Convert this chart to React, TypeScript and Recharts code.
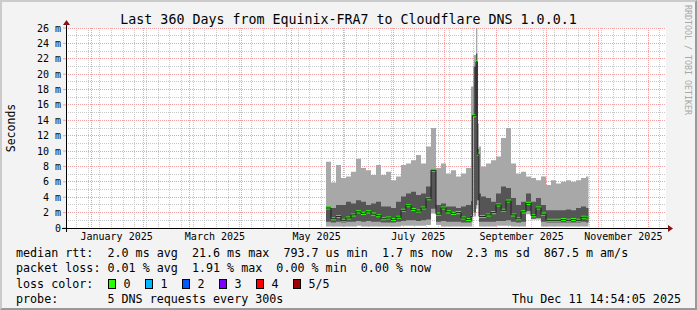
import React from 'react';
import { ComposedChart, Area, Line, XAxis, YAxis, CartesianGrid } from 'recharts';

const W = 697;
const H = 310;
const MONO = '"DejaVu Sans Mono", "Liberation Mono", monospace';

// plot box used by rrdtool: 600 x 200 px
const PLOT_LEFT = 66;
const PLOT_TOP = 28;
const PLOT_W = 600;
const PLOT_H = 200;
const SPAN_DAYS = 360;
const Y_MAX = 26;

// graph covers 360 days ending Thu Dec 11 2025 14:54:05
const START = Date.UTC(2024, 11, 16, 14, 54, 5);
const dayOf = (y: number, m: number, d: number) => (Date.UTC(y, m, d) - START) / 86400000;

// sample positions, days since graph start
const DAY = [
  156, 159, 162, 165, 168, 171, 174, 177, 180, 183, 186, 189, 192, 195, 198, 201, 204, 207, 210, 213,
  216, 219, 222, 225, 228, 231, 234, 237, 240,
  243.0, 243.8, 244.6, 246.0, 246.8, 247.8,
  249, 252, 255, 258, 261, 264, 267, 270, 273, 276, 279, 282, 285, 288, 291, 294, 297, 300, 303, 306,
  309, 312, 313.5,
];
// smoke, in ms: slowest ping, 4th, median, 2nd, fastest
const P_MAX = [
  8.6, 5.9, 8.2, 6.5, 6.7, 7.3, 9.0, 7.8, 7.5, 6.9, 8.2, 6.9, 7.3, 6.2, 6.7, 8.2, 8.4, 8.8, 9.5, 8.4,
  10.6, 13.0, 7.8, 8.4, 7.1, 7.5, 6.7, 7.1, 7.8,
  18.4, 18.4, 22.5, 27.0, 13.6, 10.6,
  8.0, 8.4, 8.8, 9.3, 11.7, 13.0, 8.4, 7.1, 7.3, 6.7, 6.5, 6.2, 6.7, 5.6, 6.2, 5.8, 6.0, 6.2, 6.0, 6.2,
  6.5, 6.7, 6.7,
];
const P_HI = [
  2.8, 2.6, 3.0, 3.0, 3.4, 3.2, 3.6, 3.4, 3.0, 3.2, 3.4, 2.8, 2.8, 2.6, 3.4, 4.1, 4.5, 4.7, 4.3, 4.5,
  5.4, 7.5, 3.0, 3.2, 2.8, 2.8, 2.6, 2.8, 3.0,
  3.5, 14.6, 21.0, 22.7, 10.3, 4.5,
  4.1, 3.9, 3.4, 4.5, 5.4, 5.2, 3.9, 3.0, 3.4, 4.5, 3.4, 3.9, 3.0, 2.3, 2.3, 2.3, 2.3, 2.4, 2.3, 2.6,
  2.8, 2.6, 2.6,
];
const MEDIAN = [
  2.6, 1.2, 1.5, 1.0, 1.3, 1.7, 2.1, 1.9, 2.1, 1.8, 1.6, 1.2, 1.3, 1.1, 1.4, 2.3, 2.9, 2.4, 2.2, 2.6,
  3.8, 7.5, 1.8, 2.6, 2.1, 1.9, 2.0, 1.3, 1.1,
  1.5, 14.6, 14.6, 21.6, 9.6, 1.5,
  1.5, 1.7, 2.0, 3.0, 2.3, 3.5, 1.7, 1.2, 2.1, 3.2, 1.6, 2.6, 1.8, 1.0, 1.0, 1.0, 1.1, 1.0, 1.1, 1.0,
  1.4, 1.3, 1.3,
];
const P_LO = [
  0.8, 0.7, 0.8, 0.7, 0.8, 0.8, 0.9, 0.8, 0.9, 0.8, 0.8, 0.7, 0.7, 0.7, 0.8, 0.9, 1.0, 1.0, 0.9, 1.0,
  1.1, 2.5, 0.8, 0.9, 0.8, 0.8, 0.8, 0.7, 0.7,
  0.8, 14.5, 2.0, 3.0, 3.6, 0.8,
  0.8, 0.8, 0.8, 0.9, 0.9, 1.0, 0.8, 0.7, 0.8, 2.2, 1.2, 1.3, 0.8, 0.7, 0.7, 0.7, 0.7, 0.7, 0.7, 0.7,
  0.8, 0.7, 0.7,
];
const P_MIN = [
  0.2, 0.2, 0.2, 0.2, 0.2, 0.2, 0.3, 0.2, 0.2, 0.2, 0.2, 0.2, 0.2, 0.2, 0.2, 0.3, 0.3, 0.3, 0.3, 0.3,
  0.4, 1.9, 0.4, 0.2, 0.2, 0.2, 0.2, 0.2, 0.2,
  0.2, 14.5, 1.5, 2.5, 3.6, 0.2,
  0.2, 0.2, 0.2, 0.3, 0.3, 0.3, 0.2, 0.2, 0.2, 1.8, 1.1, 1.1, 0.2, 0.2, 0.2, 0.2, 0.2, 0.2, 0.2, 0.2,
  0.2, 0.2, 0.2,
];

const Y_TICKS = [0, 2, 4, 6, 8, 10, 12, 14, 16, 18, 20, 22, 24, 26];
const X_LABELS = ['January 2025', 'March 2025', 'May 2025', 'July 2025', 'September 2025', 'November 2025'];
const X_LABEL_MONTHS = [0, 2, 4, 6, 8, 10];

const LOSS_LABELS = ['0', '1', '2', '3', '4', '5/5'];
const LOSS_COLORS = ['#26ff00', '#00b8ff', '#0059ff', '#7e00ff', '#ff0000', '#a00000'];

const data = DAY.map((d, i) => ({
  day: d,
  smoke: [P_MIN[i], P_MAX[i]],
  core: [P_LO[i], P_HI[i]],
  med: MEDIAN[i],
  medBand: [MEDIAN[i] - 0.2, MEDIAN[i] + 0.2],
}));

// keep the dotted grid on whole pixels so it stays crisp like rrdtool's
const pxDay = PLOT_W / SPAN_DAYS;
const snapDay = (d: number) => (Math.floor(PLOT_LEFT + d * pxDay) + 0.5 - PLOT_LEFT) / pxDay;
const snapVal = (v: number) => {
  const y = PLOT_TOP + ((Y_MAX - v) * PLOT_H) / Y_MAX;
  return Y_MAX - ((Math.floor(y) + 0.5 - PLOT_TOP) * Y_MAX) / PLOT_H;
};

const monthLines: number[] = [];
for (let m = 0; m < 12; m++) monthLines.push(snapDay(dayOf(2025, m, 1)));
const weekLines: number[] = [];
for (let d = dayOf(2024, 11, 23); d < SPAN_DAYS; d += 7) weekLines.push(snapDay(d));
const labelDays = X_LABEL_MONTHS.map(m => dayOf(2025, m, 1) + 15);
const minorH: number[] = [];
const majorH: number[] = [];
for (let v = 1; v <= Y_MAX; v++) (v % 2 === 0 ? majorH : minorH).push(snapVal(v));

const GRID = '#c8c8c8';
const MGRID = '#f0a0a0';

export default function App() {
  const rows = [
    'median rtt:  2.0 ms avg  21.6 ms max  793.7 us min  1.7 ms now  2.3 ms sd  867.5 m am/s',
    'packet loss: 0.01 % avg  1.91 % max  0.00 % min  0.00 % now',
  ];
  const textStyle: React.CSSProperties = {
    position: 'absolute',
    fontFamily: MONO,
    fontSize: 11.7,
    lineHeight: '15px',
    whiteSpace: 'pre',
    color: '#000',
  };
  return (
    <div
      style={{
        position: 'absolute',
        left: 0,
        top: 0,
        width: W,
        height: H,
        background: '#f3f3f3',
        boxSizing: 'border-box',
        borderTop: '2px solid #cbcbcb',
        borderLeft: '2px solid #cbcbcb',
        borderRight: '2px solid #999',
        borderBottom: '2px solid #999',
        overflow: 'hidden',
      }}
    >
      <div style={{ position: 'absolute', left: -2, top: -2 }}>
        <ComposedChart
          width={W}
          height={H}
          data={data}
          margin={{ top: PLOT_TOP, right: W - PLOT_LEFT - PLOT_W, bottom: 62, left: 16 }}
        >
          <CartesianGrid
            fill="#fff"
            stroke={GRID}
            strokeDasharray="1 1"
            horizontalValues={minorH}
            verticalValues={weekLines}
          />
          <CartesianGrid
            stroke={MGRID}
            strokeDasharray="1 1"
            horizontalValues={majorH}
            verticalValues={monthLines}
          />
          <XAxis
            dataKey="day"
            type="number"
            domain={[0, SPAN_DAYS]}
            allowDataOverflow
            ticks={labelDays}
            tickFormatter={(v: number) => X_LABELS[labelDays.indexOf(v)] ?? ''}
            interval={0}
            height={20}
            axisLine={false}
            tickLine={false}
            tickSize={4}
            tickMargin={1}
            tick={{ fill: '#000', fontSize: 10, fontFamily: MONO }}
          />
          <YAxis
            type="number"
            domain={[0, Y_MAX]}
            allowDataOverflow
            ticks={Y_TICKS}
            interval={0}
            width={50}
            axisLine={false}
            tickLine={{ stroke: MGRID }}
            tickSize={3}
            tickMargin={2}
            tickFormatter={(v: number) => (v === 0 ? '0' : `${v} m`)}
            tick={{ fill: '#000', fontSize: 10, fontFamily: MONO }}
          />
          <Area
            dataKey="smoke"
            type="stepAfter"
            fill="#a8a8a8"
            fillOpacity={1}
            stroke="none"
            dot={false}
            activeDot={false}
            isAnimationActive={false}
          />
          <Area
            dataKey="core"
            type="stepAfter"
            fill="#555555"
            fillOpacity={1}
            stroke="none"
            dot={false}
            activeDot={false}
            isAnimationActive={false}
          />
          <Line
            dataKey="med"
            type="stepAfter"
            stroke="#202020"
            strokeWidth={1}
            dot={false}
            activeDot={false}
            isAnimationActive={false}
          />
          <Area
            dataKey="medBand"
            type="stepAfter"
            fill={LOSS_COLORS[0]}
            fillOpacity={1}
            stroke="none"
            dot={false}
            activeDot={false}
            isAnimationActive={false}
          />
        </ComposedChart>
      </div>

      <svg
        width={W}
        height={H}
        style={{ position: 'absolute', left: -2, top: -2, pointerEvents: 'none' }}
      >
        <line x1={62} y1={228.5} x2={669} y2={228.5} stroke="#000" />
        <polygon points="668,225 673,228.5 668,232" fill="#8b1010" />
        <line x1={66.5} y1={232} x2={66.5} y2={24} stroke="#000" />
        <polygon points="63,25 66.5,20 70,25" fill="#8b1010" />
        <text
          x={15}
          y={128}
          transform="rotate(-90 15 128)"
          textAnchor="middle"
          fontFamily={MONO}
          fontSize={11.5}
          fill="#000"
        >
          Seconds
        </text>
        <text
          x={685}
          y={5}
          transform="rotate(90 685 5)"
          fontFamily={MONO}
          fontSize={8.3}
          fill="#a8a8a8"
        >
          RRDTOOL / TOBI OETIKER
        </text>
      </svg>

      <div
        style={{
          position: 'absolute',
          left: -2,
          top: 10,
          width: W,
          textAlign: 'center',
          fontFamily: MONO,
          fontSize: 13.3,
          lineHeight: '16px',
          color: '#000',
          whiteSpace: 'pre',
        }}
      >
        Last 360 Days from Equinix-FRA7 to Cloudflare DNS 1.0.0.1
      </div>

      <div style={{ ...textStyle, left: 14, top: 244 }}>{rows[0]}</div>
      <div style={{ ...textStyle, left: 14, top: 259.3 }}>{rows[1]}</div>
      <div style={{ ...textStyle, left: 14, top: 274.6 }}>loss color:</div>
      {LOSS_LABELS.map((lab, i) => (
        <React.Fragment key={lab}>
          <div
            style={{
              position: 'absolute',
              left: 106 + i * 37,
              top: 277,
              width: 8,
              height: 10,
              boxSizing: 'border-box',
              border: '1px solid #000',
              background: LOSS_COLORS[i],
            }}
          />
          <div style={{ ...textStyle, left: 121.5 + i * 37, top: 274.6 }}>{lab}</div>
        </React.Fragment>
      ))}
      <div style={{ ...textStyle, left: 14, top: 289.9 }}>probe:       5 DNS requests every 300s</div>
      <div style={{ ...textStyle, right: 14, top: 289.9 }}>Thu Dec 11 14:54:05 2025</div>
    </div>
  );
}
